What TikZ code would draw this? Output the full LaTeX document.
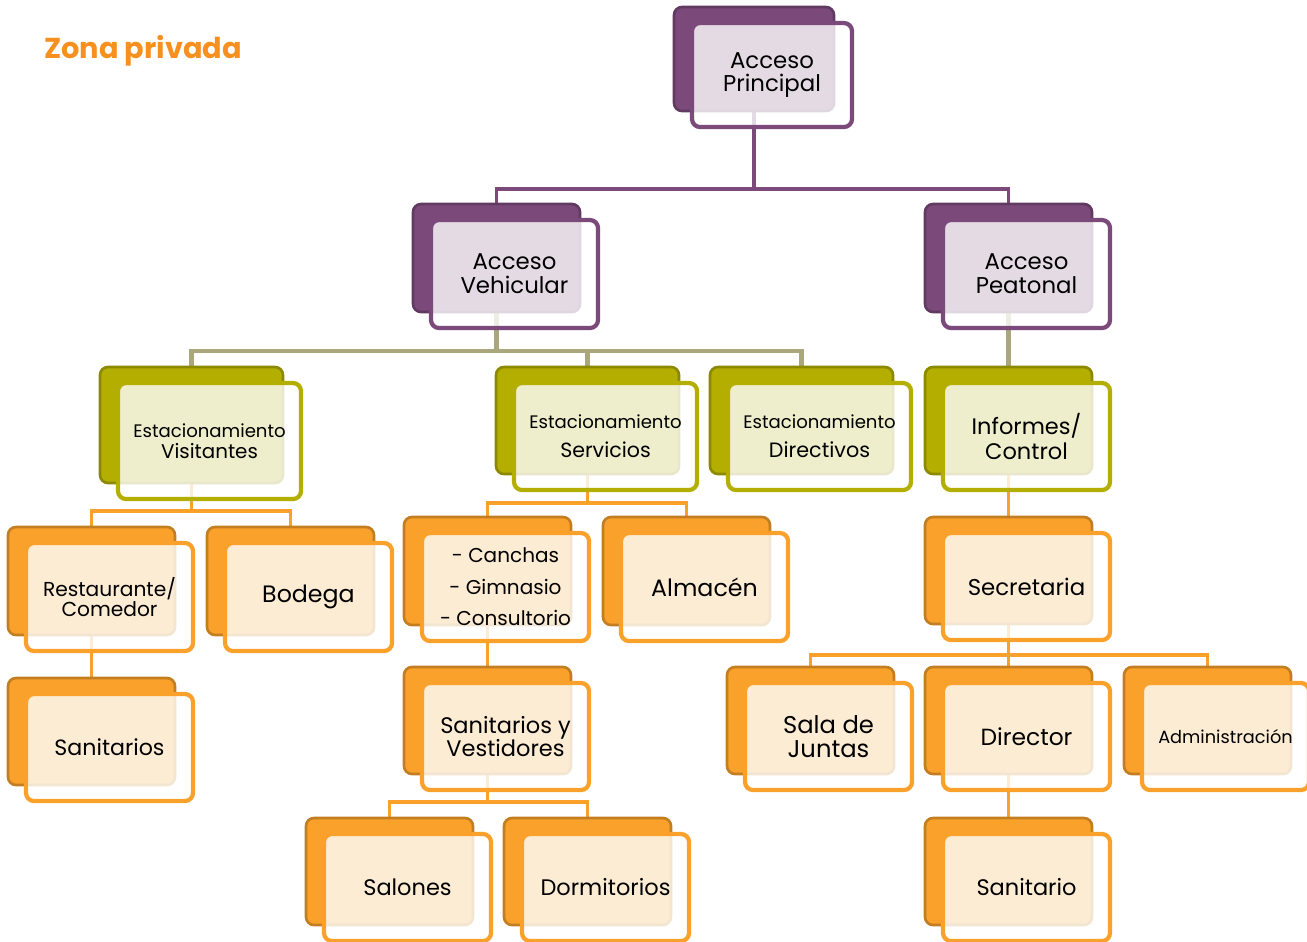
\documentclass[tikz,border=0pt]{standalone}
\usepackage{fontspec}
\setmainfont{Poppins}
\usetikzlibrary{backgrounds}

\definecolor{morado}{HTML}{7B4A7B}
\definecolor{oliva}{HTML}{B3AE00}
\definecolor{naranja}{HTML}{F9A12A}
\definecolor{lineaoliva}{HTML}{A9A77B}
\definecolor{titulo}{HTML}{F7901E}

% box = dark back card + translucent front card with the label
\newcommand{\caja}[8][]{%
  \node[atras=#7, minimum width=#5*0.02cm, minimum height=#6*0.02cm] (#2) at ({#3+#5/2},{#4+#6/2}) {};
  \node[frente=#7, minimum width=#5*0.02cm, minimum height=#6*0.02cm, #1] (#2-f) at ({#3+#5/2+18},{#4+#6/2+16}) {#8};
}

\begin{document}
\begin{tikzpicture}[x=0.02cm, y=-0.02cm,
    atras/.style={rounded corners=0.16cm, fill=#1, draw=#1!78!black, line width=1.5pt, inner sep=0pt},
    frente/.style={rounded corners=0.16cm, fill=white, fill opacity=0.8, text opacity=1, draw=#1,
        line width=2.4pt, inner sep=0pt, align=center, font=\fontsize{13.5}{13.4}\selectfont},
    linkmorado/.style={draw=morado, line width=2.2pt},
    linkoliva/.style={draw=lineaoliva, line width=2.3pt},
    linknaranja/.style={draw=naranja, line width=2.2pt}]
    \useasboundingbox (0,0) rectangle (1307,941);

    % Title
    \node[anchor=base west, text=titulo, font=\bfseries\fontsize{16.4}{16}\selectfont] (zona) at (38,58) {Zona privada};

    % Level 0 and 1
    \caja[font=\fontsize{13}{13.4}\selectfont]{principal}{674}{7}{160}{104}{morado}{Acceso\\Principal}
    \caja[font=\fontsize{13}{13.6}\selectfont]{vehicular}{413}{204}{167}{108}{morado}{Acceso\\Vehicular}
    \caja[font=\fontsize{13}{13.6}\selectfont]{peatonal}{925}{204}{167}{108}{morado}{Acceso\\Peatonal}

    % Level 2 (parking and control)
    \caja[font=\fontsize{10.3}{11.7}\selectfont]{visitantes}{100}{367}{183}{116}{oliva}{Estacionamiento\\{\fontsize{11.3}{12}\selectfont Visitantes}}
    \caja[font=\fontsize{10.3}{16.4}\selectfont]{servicios}{496}{367}{183}{107}{oliva}{Estacionamiento\\{\fontsize{11.7}{12}\selectfont Servicios}}
    \caja[font=\fontsize{10.3}{16.4}\selectfont]{directivos}{710}{367}{183}{107}{oliva}{Estacionamiento\\{\fontsize{11.8}{12}\selectfont Directivos}}
    \caja[font=\fontsize{12.8}{14.6}\selectfont]{informes}{925}{367}{167}{107}{oliva}{Informes/\\Control}

    % Level 3
    \caja[font=\fontsize{11.5}{11.7}\selectfont]{restaurante}{8}{527}{167}{108}{naranja}{Restaurante/\\Comedor}
    \caja[font=\fontsize{13.5}{13}\selectfont]{bodega}{207}{527}{167}{108}{naranja}{Bodega}
    \caja[font=\fontsize{11.4}{18}\selectfont]{canchas}{404}{517}{167}{108}{naranja}{- Canchas\\- Gimnasio\\- Consultorio}
    \caja[font=\fontsize{13.5}{13}\selectfont]{almacen}{603}{517}{167}{108}{naranja}{Almacén}
    \caja[font=\fontsize{13}{13}\selectfont]{secretaria}{925}{517}{167}{107}{naranja}{Secretaria}

    % Level 4
    \caja[font=\fontsize{12.6}{13}\selectfont]{sanitarios}{8}{678}{167}{107}{naranja}{Sanitarios}
    \caja[font=\fontsize{12.8}{13.6}\selectfont]{sanvest}{404}{667}{167}{107}{naranja}{Sanitarios y\\Vestidores}
    \caja[font=\fontsize{13.8}{13.6}\selectfont]{salajuntas}{727}{667}{167}{107}{naranja}{Sala de\\Juntas}
    \caja[font=\fontsize{13.3}{13}\selectfont]{director}{925}{667}{167}{107}{naranja}{Director}
    \caja[font=\fontsize{10.1}{12}\selectfont]{admin}{1124}{667}{167}{107}{naranja}{Administración}

    % Level 5
    \caja[font=\fontsize{12.8}{13}\selectfont]{salones}{306}{818}{167}{107}{naranja}{Salones}
    \caja[font=\fontsize{12.8}{13}\selectfont]{dormitorios}{504}{818}{167}{107}{naranja}{Dormitorios}
    \caja[font=\fontsize{12.8}{13}\selectfont]{sanitario}{925}{818}{167}{107}{naranja}{Sanitario}

    % Connectors behind the cards
    \begin{scope}[on background layer]
        \draw[linkmorado] (principal.south) |- ([yshift=0.28cm]vehicular.north) -- (vehicular.north);
        \draw[linkmorado] (principal.south) |- ([yshift=0.28cm]peatonal.north) -- (peatonal.north);

        \draw[linkoliva] (vehicular.south) |- ([yshift=0.3cm]visitantes.north) -- (visitantes.north);
        \draw[linkoliva] (vehicular.south) |- ([yshift=0.3cm]servicios.north) -- (servicios.north);
        \draw[linkoliva] (vehicular.south) |- ([yshift=0.3cm]directivos.north) -- (directivos.north);
        \draw[linkoliva] (peatonal.south) -- (informes.north);

        \draw[linknaranja] (visitantes.south) |- ([yshift=0.3cm]restaurante.north) -- (restaurante.north);
        \draw[linknaranja] (visitantes.south) |- ([yshift=0.3cm]bodega.north) -- (bodega.north);
        \draw[linknaranja] (servicios.south) |- ([yshift=0.26cm]canchas.north) -- (canchas.north);
        \draw[linknaranja] (servicios.south) |- ([yshift=0.26cm]almacen.north) -- (almacen.north);
        \draw[linknaranja] (informes.south) -- (secretaria.north);

        \draw[linknaranja] (restaurante.south) -- (sanitarios.north);
        \draw[linknaranja] (canchas.south) -- (sanvest.north);
        \draw[linknaranja] (secretaria.south) |- ([yshift=0.22cm]salajuntas.north) -- (salajuntas.north);
        \draw[linknaranja] (secretaria.south) -- (director.north);
        \draw[linknaranja] (secretaria.south) |- ([yshift=0.22cm]admin.north) -- (admin.north);

        \draw[linknaranja] (sanvest.south) |- ([yshift=0.3cm]salones.north) -- (salones.north);
        \draw[linknaranja] (sanvest.south) |- ([yshift=0.3cm]dormitorios.north) -- (dormitorios.north);
        \draw[linknaranja] (director.south) -- (sanitario.north);
    \end{scope}
\end{tikzpicture}
\end{document}
